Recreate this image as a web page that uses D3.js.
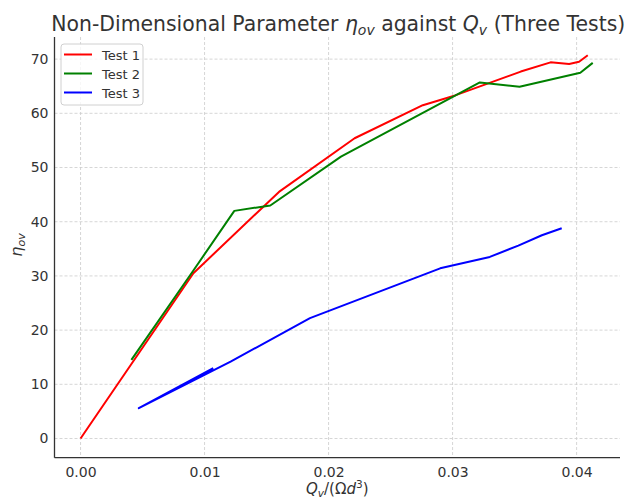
<!DOCTYPE html>
<html>
<head>
<meta charset="utf-8">
<script src="https://cdn.jsdelivr.net/npm/d3@7"></script>
<style>
  body { margin: 0; background: #fff; }
  svg text { font-family: "DejaVu Sans", sans-serif; fill: #333; }
</style>
</head>
<body>
<svg id="chart" width="624" height="503"></svg>
<script>
// values
const test1 = [[0, 0], [0.0091, 30.5], [0.016, 45.5], [0.0221, 55.4], [0.0276, 61.5],
  [0.0302, 63.3], [0.0355, 67.7], [0.0379, 69.4], [0.0394, 69.1], [0.0402, 69.5], [0.0409, 70.7]];
const test2 = [[0.0041, 14.5], [0.0091, 31.0], [0.0124, 42.0], [0.0153, 43.0], [0.0210, 52.0],
  [0.0322, 65.7], [0.0354, 64.9], [0.0403, 67.5], [0.0413, 69.3]];
const test3 = [[0.0107, 13.0], [0.0047, 5.6], [0.0121, 14.2], [0.0185, 22.2], [0.0290, 31.4],
  [0.0330, 33.5], [0.0353, 35.6], [0.0372, 37.5], [0.0388, 38.8]];
const seriesNames = ["Test 1", "Test 2", "Test 3"];
const seriesColors = ["#ff0000", "#008000", "#0000ff"];
const xTicks = [0, 0.01, 0.02, 0.03, 0.04];
const yTicks = [0, 10, 20, 30, 40, 50, 60, 70];

const plotL = 54.5, plotR = 620, plotT = 37, plotB = 457.7;

const x = d3.scaleLinear().domain([-0.0021, 0.0435]).range([plotL, plotR]);
const y = d3.scaleLinear().domain([-3.54, 74.08]).range([plotB, plotT]);

const svg = d3.select("#chart");

// grid
const grid = svg.append("g").attr("class", "grid")
  .attr("stroke", "#cccccc").attr("stroke-width", 0.8).attr("stroke-dasharray", "3,2");
grid.selectAll("line.v").data(xTicks).enter().append("line")
  .attr("x1", d => x(d)).attr("x2", d => x(d)).attr("y1", plotT).attr("y2", plotB);
grid.selectAll("line.h").data(yTicks).enter().append("line")
  .attr("y1", d => y(d)).attr("y2", d => y(d)).attr("x1", plotL).attr("x2", plotR);

// lines
const line = d3.line().x(d => x(d[0])).y(d => y(d[1]));
const series = [test1, test2, test3];
svg.append("g").selectAll("path").data(series).enter().append("path")
  .attr("d", line)
  .attr("fill", "none")
  .attr("stroke", (d, i) => seriesColors[i])
  .attr("stroke-width", 2)
  .attr("stroke-linejoin", "round");

// axes
const xAxis = svg.append("g").attr("transform", `translate(0,${plotB})`)
  .call(d3.axisBottom(x).tickValues(xTicks).tickFormat(d3.format(".2f")).tickSize(0).tickPadding(9));
const yAxis = svg.append("g").attr("transform", `translate(${plotL},0)`)
  .call(d3.axisLeft(y).tickValues(yTicks).tickSize(0).tickPadding(6));
[xAxis, yAxis].forEach(a => {
  a.select(".domain").attr("stroke", "#333").attr("stroke-width", 1.3);
  a.selectAll("text").attr("font-size", 14).attr("fill", "#333")
    .attr("font-family", "DejaVu Sans, sans-serif");
});
// only the left and bottom spines
xAxis.select(".domain").attr("d", `M${plotL},0H${plotR}`);
yAxis.select(".domain").attr("d", `M0,${plotT}V${plotB}`);

// title
const title = svg.append("text").attr("x", (plotL + plotR) / 2 + 1).attr("y", 31)
  .attr("text-anchor", "middle").attr("font-size", 20.4);
title.append("tspan").text("Non-Dimensional Parameter ");
title.append("tspan").attr("font-style", "italic").text("η");
title.append("tspan").attr("font-style", "italic").attr("font-size", 14).attr("dy", 4).text("ov");
title.append("tspan").attr("dy", -4).text(" against ");
title.append("tspan").attr("font-style", "italic").text("Q");
title.append("tspan").attr("font-style", "italic").attr("font-size", 14).attr("dy", 4).text("v");
title.append("tspan").attr("dy", -4).text(" (Three Tests)");

// x label
const xl = svg.append("text").attr("x", (plotL + plotR) / 2).attr("y", 494)
  .attr("text-anchor", "middle").attr("font-size", 15);
xl.append("tspan").attr("font-style", "italic").text("Q");
xl.append("tspan").attr("font-style", "italic").attr("font-size", 10.5).attr("dy", 3).text("v");
xl.append("tspan").attr("dy", -3).text("/(Ω");
xl.append("tspan").attr("font-style", "italic").text("d");
xl.append("tspan").attr("font-size", 10.5).attr("dy", -6).text("3");
xl.append("tspan").attr("dy", 6).text(")");

// y label
const yl = svg.append("text").attr("transform", "translate(22,245) rotate(-90)")
  .attr("text-anchor", "middle").attr("font-size", 16);
yl.append("tspan").attr("font-style", "italic").text("η");
yl.append("tspan").attr("font-style", "italic").attr("font-size", 11).attr("dy", 3).text("ov");

// legend
const lg = svg.append("g");
lg.append("rect").attr("x", 61).attr("y", 44).attr("width", 82).attr("height", 61)
  .attr("rx", 3).attr("fill", "#fff").attr("fill-opacity", 0.8)
  .attr("stroke", "#d0d0d0").attr("stroke-width", 1);
const items = lg.selectAll("g.item").data(seriesNames).enter().append("g")
  .attr("transform", (d, i) => `translate(0,${54.5 + i * 19})`);
items.append("line").attr("x1", 64).attr("x2", 92)
  .attr("stroke", (d, i) => seriesColors[i]).attr("stroke-width", 2);
items.append("text").attr("x", 102).attr("y", 5).attr("font-size", 13).text(d => d);
</script>
</body>
</html>
